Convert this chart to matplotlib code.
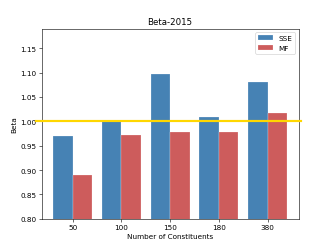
import numpy as np
import matplotlib.pyplot as plt

# values
constituents = ["50", "100", "150", "180", "380"]
sse_beta = [0.970, 1.000, 1.097, 1.009, 1.080]
mf_beta = [0.890, 0.972, 0.979, 0.978, 1.017]

fig, ax = plt.subplots(figsize=(6.4, 4.76), dpi=51.875)

x = np.arange(len(constituents))
w = 0.4
ax.bar(x - w/2, sse_beta, w, color="steelblue", label="SSE",
       edgecolor=(1, 1, 1, 0.6), linewidth=0.5)
ax.bar(x + w/2, mf_beta, w, color="indianred", label="MF",
       edgecolor=(1, 1, 1, 0.6), linewidth=0.5)

# reference line at beta = 1, drawn a bit past the axes
ax.plot([-0.02, 1.01], [1.0, 1.0], color="gold", linewidth=3,
        transform=ax.get_yaxis_transform(), clip_on=False, zorder=5)

ax.set_xticks(x)
ax.set_xticklabels(constituents)
ax.set_ylim(0.80, 1.19)
ax.set_yticks(np.arange(0.80, 1.151, 0.05))
ax.set_xlabel("Number of Constituents")
ax.set_ylabel("Beta")
ax.set_title("Beta-2015")
ax.legend(loc="upper right")

fig.savefig("out.png", dpi=51.875)
